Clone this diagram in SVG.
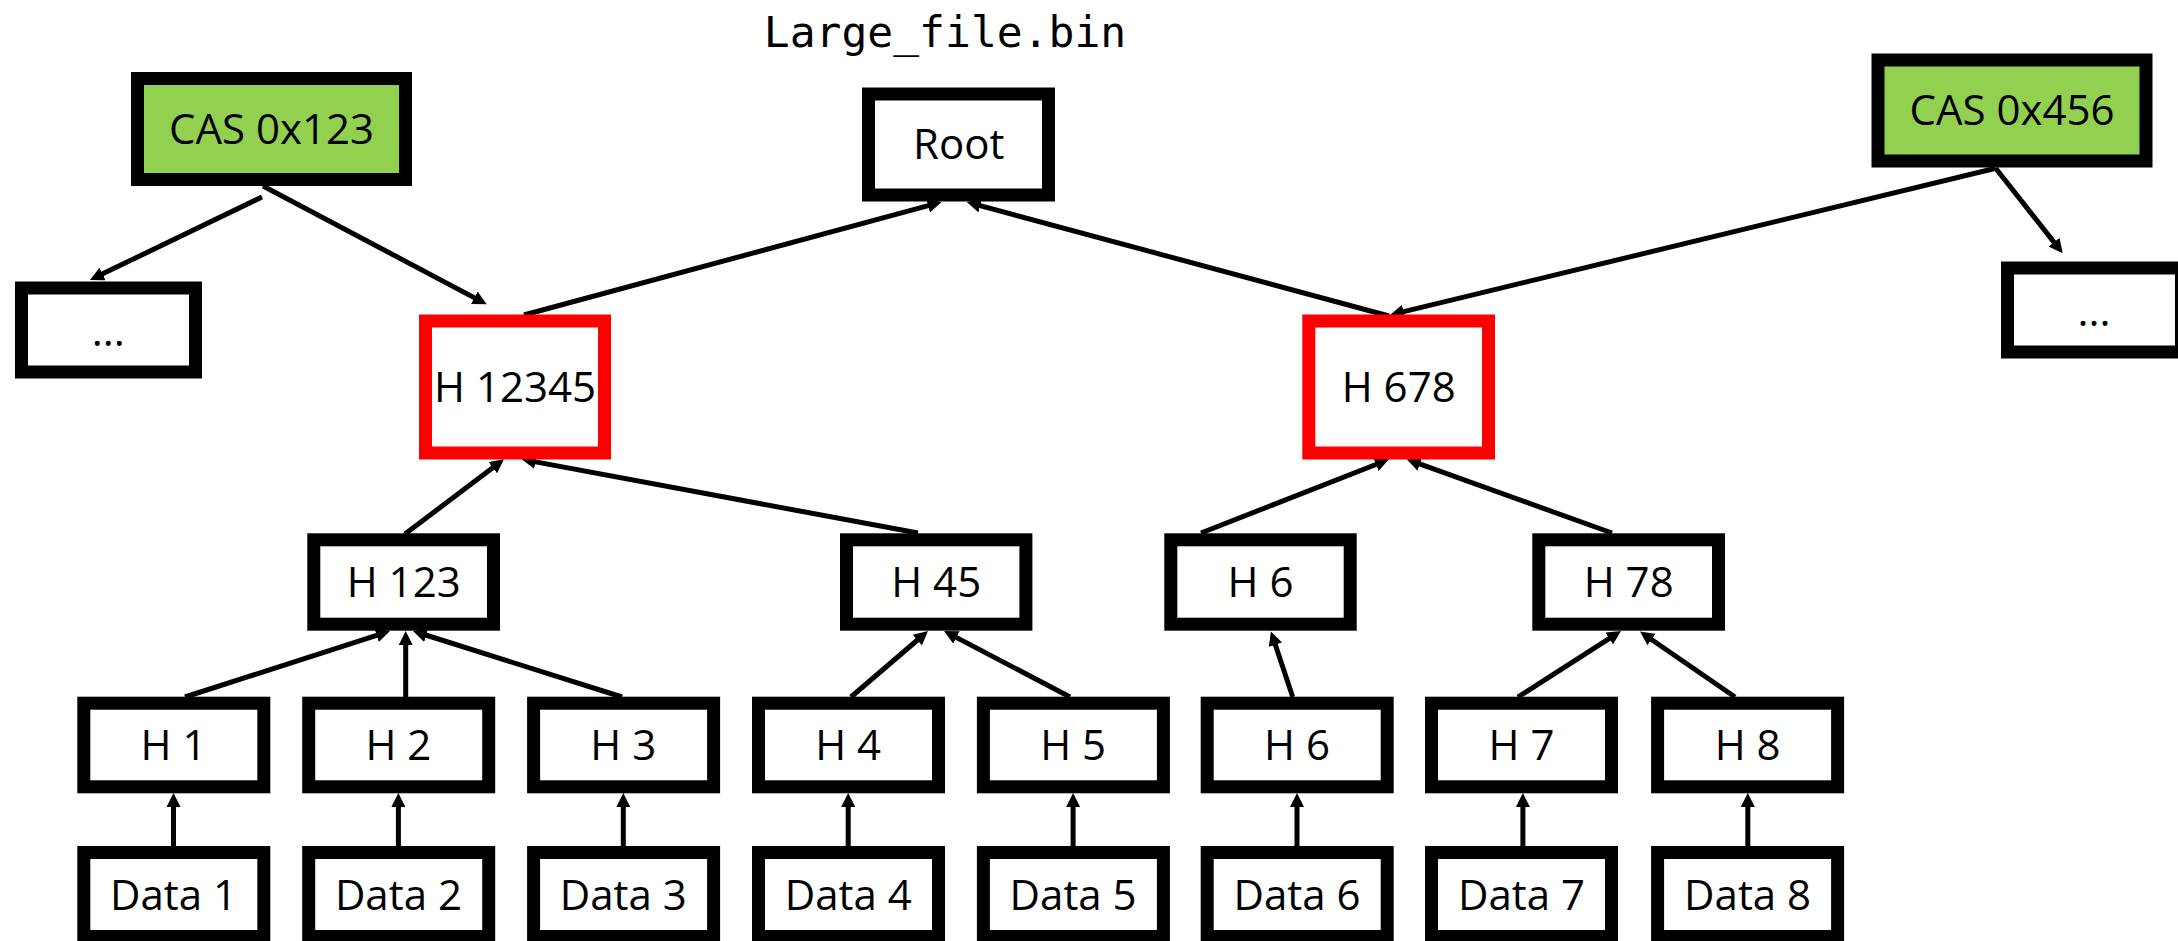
<svg xmlns="http://www.w3.org/2000/svg" width="2178" height="941" viewBox="0 0 2178 941">
  <style>
    .box { fill: #ffffff; stroke: #000000; stroke-width: 13; }
    .cas { fill: #92D050; stroke: #000000; stroke-width: 13; }
    .hot { fill: #ffffff; stroke: #FF0000; stroke-width: 13; }
    .lbl { font-family: "Open Sans", "Noto Sans", "Liberation Sans", sans-serif; font-size: 42px; fill: #000000; text-anchor: middle; }
    .file { font-family: "DejaVu Sans Mono", "Liberation Mono", monospace; font-size: 43px; fill: #000000; text-anchor: middle; }
    .edge { fill: none; stroke: #000000; stroke-width: 5; marker-end: url(#head); }
  </style>
  <defs>
    <marker id="head" viewBox="0 0 14 14" refX="4" refY="7" markerWidth="14" markerHeight="14" markerUnits="userSpaceOnUse" orient="auto">
      <path d="M0,0 L14,7 L0,14 z" fill="#000000"/>
    </marker>
  </defs>

  <rect width="2178" height="941" fill="#ffffff"/>

  <text class="file" x="945" y="47">Large_file.bin</text>

  <!-- connectors: each line stops short of the box edge, the marker tip reaches it -->
  <g id="connectors">
    <line class="edge" x1="262" y1="197" x2="99" y2="275.6"/>
    <line class="edge" x1="263" y1="186" x2="477.9" y2="299.6"/>
    <line class="edge" x1="524" y1="315" x2="932" y2="204.6"/>
    <line class="edge" x1="1389" y1="316" x2="976.4" y2="204.6"/>
    <line class="edge" x1="1995.7" y1="168.3" x2="1399.7" y2="312.6"/>
    <line class="edge" x1="1995.7" y1="168.3" x2="2056.5" y2="245.4"/>
    <line class="edge" x1="405" y1="534" x2="496" y2="465.3"/>
    <line class="edge" x1="918" y1="533" x2="531.5" y2="461.1"/>
    <line class="edge" x1="1201" y1="533" x2="1379.7" y2="463"/>
    <line class="edge" x1="1612" y1="533" x2="1416.1" y2="462.7"/>
    <line class="edge" x1="185" y1="697" x2="380.5" y2="634.1"/>
    <line class="edge" x1="405.7" y1="697" x2="405.7" y2="641"/>
    <line class="edge" x1="622" y1="697" x2="422.5" y2="634"/>
    <line class="edge" x1="851" y1="697" x2="920.4" y2="637.5"/>
    <line class="edge" x1="1070" y1="697" x2="952.9" y2="635.6"/>
    <line class="edge" x1="1292.7" y1="697" x2="1274.1" y2="641"/>
    <line class="edge" x1="1518" y1="697" x2="1612.6" y2="636.4"/>
    <line class="edge" x1="1735" y1="697" x2="1648.2" y2="637.2"/>
    <line class="edge" x1="173.5" y1="846" x2="173.5" y2="803"/>
    <line class="edge" x1="398.4" y1="846" x2="398.4" y2="803"/>
    <line class="edge" x1="623.3" y1="846" x2="623.3" y2="803"/>
    <line class="edge" x1="848.2" y1="846" x2="848.2" y2="803"/>
    <line class="edge" x1="1073.1" y1="846" x2="1073.1" y2="803"/>
    <line class="edge" x1="1297" y1="846" x2="1297" y2="803"/>
    <line class="edge" x1="1522.9" y1="846" x2="1522.9" y2="803"/>
    <line class="edge" x1="1747.8" y1="846" x2="1747.8" y2="803"/>
  </g>

  <!-- top row -->
  <g id="cas-0x123">
    <rect class="cas" x="137.5" y="78.5" width="268" height="101"/>
    <text class="lbl" x="271.5" y="143.5">CAS 0x123</text>
  </g>
  <g id="root">
    <rect class="box" x="868.5" y="94" width="180" height="101"/>
    <text class="lbl" x="958.7" y="158.5">Root</text>
  </g>
  <g id="cas-0x456">
    <rect class="cas" x="1878" y="60" width="268" height="101"/>
    <text class="lbl" x="2012" y="124.5">CAS 0x456</text>
  </g>

  <!-- other snapshot branches -->
  <g id="more-left">
    <rect class="box" x="21.5" y="288" width="174" height="84"/>
    <text class="lbl" x="108.3" y="346">...</text>
  </g>
  <g id="more-right">
    <rect class="box" x="2007.5" y="268" width="174" height="84"/>
    <text class="lbl" x="2094" y="326">...</text>
  </g>

  <!-- shared subtree roots -->
  <g id="h-12345">
    <rect class="hot" x="425.5" y="321" width="179" height="132"/>
    <text class="lbl" x="515" y="401.7">H 12345</text>
  </g>
  <g id="h-678">
    <rect class="hot" x="1308.8" y="321" width="179.7" height="132"/>
    <text class="lbl" x="1398.7" y="401.7">H 678</text>
  </g>

  <!-- intermediate hashes -->
  <g id="h-123">
    <rect class="box" x="313.8" y="539.8" width="179.7" height="84.4"/>
    <text class="lbl" x="403.7" y="596.7">H 123</text>
  </g>
  <g id="h-45">
    <rect class="box" x="846.5" y="539.8" width="179.4" height="84.4"/>
    <text class="lbl" x="936.2" y="596.7">H 45</text>
  </g>
  <g id="h-6-upper">
    <rect class="box" x="1170.8" y="539.8" width="179.4" height="84.4"/>
    <text class="lbl" x="1260.5" y="596.7">H 6</text>
  </g>
  <g id="h-78">
    <rect class="box" x="1538.8" y="539.8" width="179.7" height="84.4"/>
    <text class="lbl" x="1628.7" y="596.7">H 78</text>
  </g>

  <!-- leaf hashes -->
  <g id="h-1">
    <rect class="box" x="83.8" y="703.2" width="180" height="83.6"/>
    <text class="lbl" x="173.5" y="759.5">H 1</text>
  </g>
  <g id="h-2">
    <rect class="box" x="308.7" y="703.2" width="180" height="83.6"/>
    <text class="lbl" x="398.4" y="759.5">H 2</text>
  </g>
  <g id="h-3">
    <rect class="box" x="533.6" y="703.2" width="180" height="83.6"/>
    <text class="lbl" x="623.3" y="759.5">H 3</text>
  </g>
  <g id="h-4">
    <rect class="box" x="758.5" y="703.2" width="180" height="83.6"/>
    <text class="lbl" x="848.2" y="759.5">H 4</text>
  </g>
  <g id="h-5">
    <rect class="box" x="983.4" y="703.2" width="180" height="83.6"/>
    <text class="lbl" x="1073.1" y="759.5">H 5</text>
  </g>
  <g id="h-6">
    <rect class="box" x="1207.2" y="703.2" width="180" height="83.6"/>
    <text class="lbl" x="1297" y="759.5">H 6</text>
  </g>
  <g id="h-7">
    <rect class="box" x="1431.5" y="703.2" width="180" height="83.6"/>
    <text class="lbl" x="1521.5" y="759.5">H 7</text>
  </g>
  <g id="h-8">
    <rect class="box" x="1657.6" y="703.2" width="180" height="83.6"/>
    <text class="lbl" x="1747.6" y="759.5">H 8</text>
  </g>

  <!-- data blocks -->
  <g id="data-1">
    <rect class="box" x="83.8" y="852.5" width="180" height="84"/>
    <text class="lbl" x="173.5" y="910">Data 1</text>
  </g>
  <g id="data-2">
    <rect class="box" x="308.7" y="852.5" width="180" height="84"/>
    <text class="lbl" x="398.4" y="910">Data 2</text>
  </g>
  <g id="data-3">
    <rect class="box" x="533.6" y="852.5" width="180" height="84"/>
    <text class="lbl" x="623.3" y="910">Data 3</text>
  </g>
  <g id="data-4">
    <rect class="box" x="758.5" y="852.5" width="180" height="84"/>
    <text class="lbl" x="848.2" y="910">Data 4</text>
  </g>
  <g id="data-5">
    <rect class="box" x="983.4" y="852.5" width="180" height="84"/>
    <text class="lbl" x="1073.1" y="910">Data 5</text>
  </g>
  <g id="data-6">
    <rect class="box" x="1207.2" y="852.5" width="180" height="84"/>
    <text class="lbl" x="1297" y="910">Data 6</text>
  </g>
  <g id="data-7">
    <rect class="box" x="1431.5" y="852.5" width="180" height="84"/>
    <text class="lbl" x="1521.5" y="910">Data 7</text>
  </g>
  <g id="data-8">
    <rect class="box" x="1657.6" y="852.5" width="180" height="84"/>
    <text class="lbl" x="1747.6" y="910">Data 8</text>
  </g>
</svg>
